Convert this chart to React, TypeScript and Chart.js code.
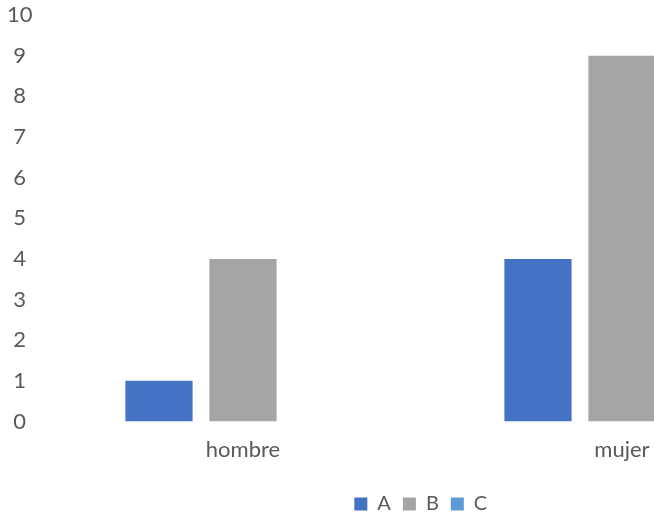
import React, { useEffect, useRef } from "react";
import { Chart, registerables } from "chart.js";

Chart.register(...registerables);

const categories = ["hombre", "mujer"];
const seriesNames = ["A", "B", "C"];
const valuesA = [1, 4];
const valuesB = [4, 9];
const valuesC = [0, 0];
const yMin = 0;
const yMax = 10;
const yStep = 1;

const colors = ["#4472C4", "#A5A5A5", "#5B9BD5"];
const textColor = "#595959";
const fontFamily = "Lato, 'Open Sans', sans-serif";

const legendShift = {
  id: "legendShift",
  afterLayout(chart: any) {
    const lg = chart.legend;
    if (lg) {
      lg.left += 15;
      lg.right += 15;
    }
  },
};

export default function App() {
  const canvasRef = useRef<HTMLCanvasElement | null>(null);

  useEffect(() => {
    if (!canvasRef.current) return;
    const chart = new Chart(canvasRef.current, {
      type: "bar",
      data: {
        labels: categories,
        datasets: [valuesA, valuesB, valuesC].map((vals, i) => ({
          label: seriesNames[i],
          data: vals,
          backgroundColor: colors[i],
          borderWidth: 0,
          barPercentage: 0.8,
          categoryPercentage: 0.665,
        })),
      },
      plugins: [legendShift],
      options: {
        responsive: false,
        animation: false,
        layout: { padding: { top: 15, right: 30.5, left: 0, bottom: -6 } },
        plugins: {
          tooltip: { enabled: false },
          legend: {
            position: "bottom",
            labels: {
              boxWidth: 13,
              boxHeight: 13,
              padding: 12,
              color: textColor,
              font: { family: fontFamily, size: 20 },
            },
          },
        },
        scales: {
          x: {
            grid: { display: false, drawTicks: false },
            border: { display: false },
            ticks: {
              color: textColor,
              font: { family: fontFamily, size: 22 },
              padding: 15,
            },
            afterFit: (scale: any) => {
              scale.height = 60.5;
            },
          },
          y: {
            min: yMin,
            max: yMax,
            grid: { display: false, drawTicks: false },
            border: { display: false },
            ticks: {
              stepSize: yStep,
              color: textColor,
              font: { family: fontFamily, size: 22 },
              crossAlign: "center",
              padding: 21,
            },
            afterFit: (scale: any) => {
              scale.width = 53.5;
              scale.paddingTop = 0;
              scale.paddingBottom = 0;
            },
          },
        },
      },
    });
    return () => chart.destroy();
  }, []);

  return (
    <div
      style={{
        position: "fixed",
        left: 0,
        top: 0,
        width: 654,
        height: 518,
        overflow: "hidden",
        background: "#fff",
      }}
    >
      <canvas ref={canvasRef} width={842} height={518} style={{ display: "block" }} />
    </div>
  );
}
